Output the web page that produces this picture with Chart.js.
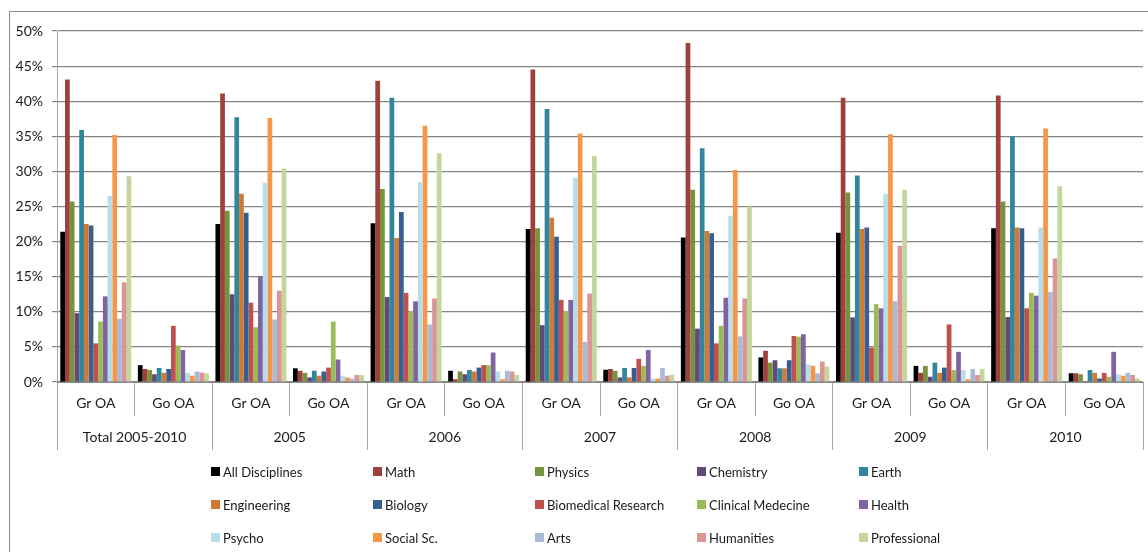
<!DOCTYPE html>
<html>
<head>
<meta charset="utf-8">
<script src="https://cdn.jsdelivr.net/npm/chart.js@4.4.0/dist/chart.umd.min.js"></script>
<style>
  html, body { margin: 0; padding: 0; background: #fff; overflow: hidden; }
  #wrap { position: relative; width: 1148px; height: 552px; }
  #frame {
    position: absolute; left: 9px; top: 11px; width: 1160px; height: 560px;
    border: 1.5px solid #8c8c8c; box-sizing: border-box;
  }
  #chart { position: absolute; left: 0; top: 0; }
  #legend {
    position: absolute; left: 211px; top: 455px;
    display: grid; grid-template-columns: repeat(5, 162px); grid-auto-rows: 33px;
    font-family: Lato, "Open Sans", sans-serif; font-size: 13px; color: #1a1a1a;
  }
  .item { display: flex; align-items: center; white-space: nowrap; }
  .box { width: 9px; height: 9px; margin-right: 3px; }
</style>
</head>
<body>
<div id="wrap">
  <div id="frame"></div>
  <canvas id="chart" width="1148" height="552"></canvas>
  <div id="legend"></div>
</div>
<script>
// categories
const categories = ["Gr OA", "Go OA", "Gr OA", "Go OA", "Gr OA", "Go OA", "Gr OA",
  "Go OA", "Gr OA", "Go OA", "Gr OA", "Go OA", "Gr OA", "Go OA"];
const years = ["Total 2005-2010", "2005", "2006", "2007", "2008", "2009", "2010"];
const yTicks = [0, 5, 10, 15, 20, 25, 30, 35, 40, 45, 50];

// series values (%), one per category
const allDisciplines = [21.4, 2.4, 22.5, 1.95, 22.6, 1.6, 21.8, 1.75, 20.6, 3.5, 21.25, 2.3, 21.9, 1.25];
const math = [43.1, 1.85, 41.1, 1.6, 42.9, 0.4, 44.5, 1.85, 48.3, 4.45, 40.5, 1.3, 40.8, 1.25];
const physics = [25.7, 1.7, 24.4, 1.3, 27.5, 1.5, 21.9, 1.6, 27.4, 2.75, 27.0, 2.3, 25.7, 1.1];
const chemistry = [9.8, 1.1, 12.5, 0.65, 12.1, 1.1, 8.1, 0.65, 7.6, 3.1, 9.2, 0.75, 9.25, 0.1];
const earth = [35.9, 2.0, 37.7, 1.6, 40.5, 1.7, 38.9, 2.0, 33.3, 1.95, 29.4, 2.75, 35.0, 1.7];
const engineering = [22.5, 1.3, 26.8, 0.9, 20.5, 1.5, 23.4, 0.65, 21.5, 1.95, 21.8, 1.3, 22.0, 1.3];
const biology = [22.3, 1.85, 24.1, 1.5, 24.2, 2.05, 20.7, 2.0, 21.2, 3.1, 22.0, 2.05, 21.9, 0.5];
const biomedical = [5.5, 8.0, 11.3, 2.05, 12.7, 2.4, 11.7, 3.3, 5.5, 6.55, 4.9, 8.2, 10.5, 1.3];
const clinical = [8.6, 5.2, 7.8, 8.6, 10.1, 2.4, 10.1, 2.3, 8.0, 6.45, 11.1, 1.7, 12.7, 0.75];
const health = [12.2, 4.55, 15.1, 3.2, 11.5, 4.2, 11.7, 4.55, 12.0, 6.8, 10.5, 4.3, 12.3, 4.3];
const psycho = [26.5, 1.3, 28.4, 0.9, 28.5, 1.5, 29.1, 0.5, 23.7, 2.5, 26.8, 1.7, 22.0, 1.1];
const socialSc = [35.2, 0.9, 37.6, 0.65, 36.5, 0.4, 35.4, 0.5, 30.2, 2.3, 35.3, 0.4, 36.1, 0.9];
const arts = [9.0, 1.5, 8.9, 0.5, 8.2, 1.6, 5.7, 2.0, 6.5, 1.25, 11.5, 1.85, 12.8, 1.3];
const humanities = [14.2, 1.35, 13.0, 1.0, 11.9, 1.5, 12.6, 0.9, 11.9, 2.9, 19.4, 1.0, 17.6, 1.0];
const professional = [29.3, 1.25, 30.4, 1.0, 32.6, 1.0, 32.2, 1.05, 25.0, 2.2, 27.4, 1.85, 27.9, 0.5];

const seriesNames = ["All Disciplines", "Math", "Physics", "Chemistry", "Earth",
  "Engineering", "Biology", "Biomedical Research", "Clinical Medecine", "Health",
  "Psycho", "Social Sc.", "Arts", "Humanities", "Professional"];
const seriesValues = [allDisciplines, math, physics, chemistry, earth,
  engineering, biology, biomedical, clinical, health,
  psycho, socialSc, arts, humanities, professional];
const seriesColors = ["#000000", "#a0403d", "#77933c", "#604a7b", "#31859c",
  "#d07a35", "#376092", "#c0504d", "#9bbb59", "#8064a2",
  "#b7dde8", "#f79646", "#a9bad9", "#d99694", "#c4d79b"];

const font = { family: "Lato, 'Open Sans', sans-serif", size: 14 };
const grey = "#a6a6a6";

const ctx = document.getElementById("chart").getContext("2d");
const chart = new Chart(ctx, {
  type: "bar",
  data: {
    labels: categories,
    datasets: seriesNames.map((name, i) => ({
      label: name,
      data: seriesValues[i],
      backgroundColor: seriesColors[i],
      borderWidth: 0,
      barPercentage: 1.0,
      categoryPercentage: 0.915,
    })),
  },
  options: {
    responsive: false,
    animation: false,
    layout: { padding: { left: 0, top: 31, right: 5, bottom: 102 } },
    plugins: {
      legend: { display: false },
      tooltip: { enabled: false },
    },
    scales: {
      y: {
        min: 0,
        max: 50,
        afterBuildTicks: (s) => { s.ticks = yTicks.map((v) => ({ value: v })); },
        afterFit: (s) => { s.width = 57; },
        ticks: { font: font, color: "#1a1a1a", padding: 9, callback: (v) => v + "%" },
        grid: { color: "#858585", lineWidth: 1.2, tickLength: 5 },
        border: { color: grey },
      },
      x: {
        afterFit: (s) => { s.height = 34; },
        ticks: { font: font, color: "#1a1a1a", padding: -21, maxRotation: 0, autoSkip: false },
        grid: { drawOnChartArea: false, color: grey, tickLength: 34, offset: true },
        border: { color: "#8c8c8c" },
      },
      x2: {
        type: "category",
        labels: years,
        position: "bottom",
        offset: true,
        afterFit: (s) => { s.height = 34; },
        ticks: { font: font, color: "#1a1a1a", padding: -21, maxRotation: 0, autoSkip: false },
        grid: { drawOnChartArea: false, color: grey, tickLength: 34, offset: true },
        border: { display: false },
      },
    },
  },
});

// legend, 5 columns
const legend = document.getElementById("legend");
seriesNames.forEach((name, i) => {
  const item = document.createElement("div");
  item.className = "item";
  item.innerHTML = '<span class="box" style="background:' + seriesColors[i] + '"></span>' + name;
  legend.appendChild(item);
});
</script>
</body>
</html>
